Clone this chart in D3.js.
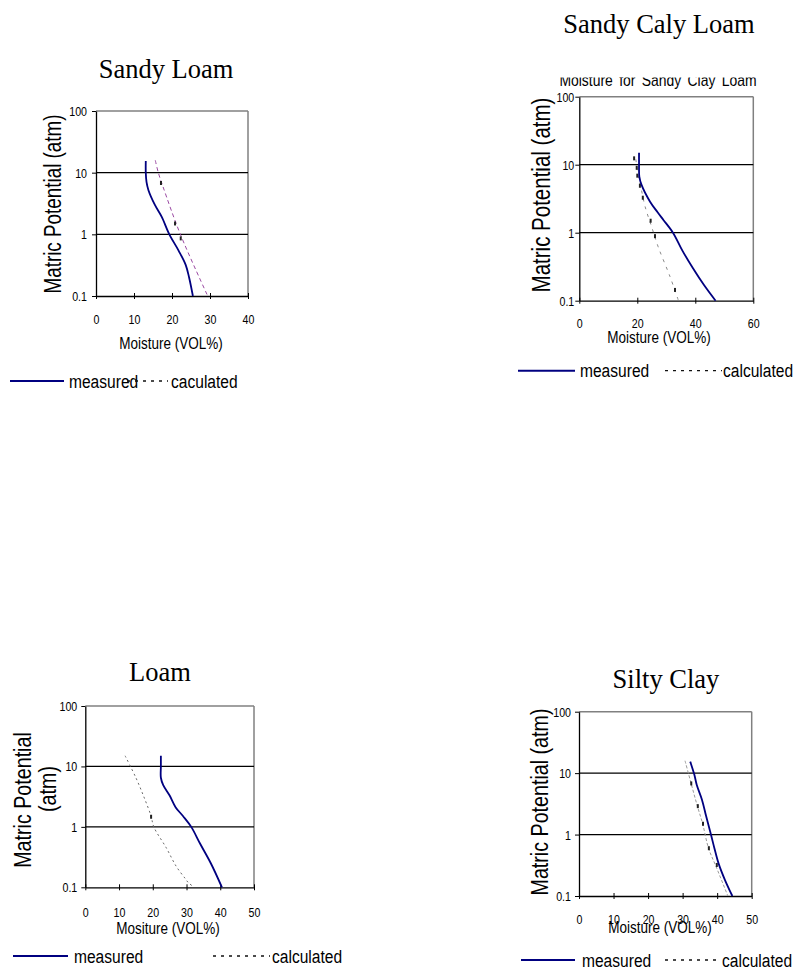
<!DOCTYPE html>
<html>
<head>
<meta charset="utf-8">
<script src="https://cdn.jsdelivr.net/npm/d3@7"></script>
<style>
  body { margin: 0; background: #fff; }
  svg { display: block; }
</style>
</head>
<body>
<svg id="chart" width="800" height="968"></svg>
<script>
// ---- data ([moisture VOL%, potential atm]) ----
const potentialTicks = [0.1, 1, 10, 100];
const gridLevels = [1, 10];

const sandyLoamTicks = [0, 10, 20, 30, 40];
const sandyClayLoamTicks = [0, 20, 40, 60];
const loamTicks = [0, 10, 20, 30, 40, 50];
const siltyClayTicks = [0, 10, 20, 30, 40, 50];

const sandyLoamMeasured = [[13.1, 15.5], [13.1, 10], [13.3, 7], [13.8, 5.2], [15.5, 3], [17.3, 1.92],
  [19.3, 1], [21.7, 0.55], [23.6, 0.32], [24.5, 0.2], [25.5, 0.1]];
const sandyLoamCalculated = [[15.6, 15.9], [16.4, 10], [17.6, 6], [22.2, 1], [29.4, 0.1]];
const sandyLoamMarks = [[17.1, 6.8], [20.8, 1.5], [22.3, 0.86]];

const sandyClayLoamMeasured = [[20.6, 15], [20.6, 10], [20.7, 6.7], [21.5, 5], [24.4, 2.86], [27, 2],
  [29, 1.54], [32.3, 1], [35.5, 0.55], [39.2, 0.3], [43, 0.17], [47, 0.1]];
const sandyClayLoamCalculated = [[19.5, 12], [20.3, 6.9], [21.3, 4.5], [22.7, 2.41], [25, 1.2],
  [27.2, 0.62], [31.3, 0.225], [34.2, 0.1]];
const sandyClayLoamMarks = [[18.9, 12.4], [19.8, 9], [20, 6.9], [20.9, 4.9], [21.9, 3.27],
  [24.6, 1.5], [26.1, 0.89], [33, 0.144]];

const loamMeasured = [[22.4, 15], [22.4, 10], [22.4, 6.5], [23.1, 4.9], [25, 3.3], [26.8, 2.1],
  [29, 1.5], [31.4, 1], [34, 0.53], [37.2, 0.25], [40.5, 0.1]];
const loamCalculated = [[11.8, 15], [15, 6.5], [17.5, 3], [19.5, 1.5], [20.3, 1], [24, 0.45],
  [27, 0.22], [29.6, 0.14], [30.5, 0.12], [32.3, 0.1]];
const loamMarks = [[19.5, 1.47]];

const siltyClayMeasured = [[32.2, 15.4], [33.4, 9.4], [34.1, 6.4], [35.6, 3.7], [36.8, 2], [38.2, 1],
  [39.2, 0.6], [40.4, 0.34], [42.3, 0.18], [44.4, 0.1]];
const siltyClayCalculated = [[30.7, 15.9], [32.4, 7], [34.2, 3], [35.8, 1.5], [37.5, 0.6],
  [39.7, 0.3], [43.1, 0.1]];
const siltyClayMarks = [[32.5, 6.8], [34.4, 2.9], [35.9, 1.5], [37.6, 0.6], [39.9, 0.32]];

// ---- layout of the four panels ----
const panels = [
  {
    title: "Sandy Loam", titleX: 166, titleY: 69,
    left: 96, right: 248, top: 111, bottom: 296, tickGap: 9, xTickGap: 23,
    ticks: sandyLoamTicks, measured: sandyLoamMeasured, calculated: sandyLoamCalculated, marks: sandyLoamMarks,
    calcColor: "#9b4aa3", calcDash: "4,3",
    yLabel: ["Matric Potential (atm)"], yLabelX: [53], yLabelY: [204], yLabelSize: 23,
    xLabel: "Moisture (VOL%)", xLabelX: 171, xLabelY: 343,
    legend: { y: 381, l1: 10, l2: 64, t1: 69, d1: 127, d2: 168, t2: 171, calc: "caculated" }
  },
  {
    title: "Sandy Caly Loam", titleX: 659, titleY: 24,
    subtitle: "Moisture for Sandy Clay Loam", subX: 658, subY: 86, subClip: 77.5,
    left: 579.3, right: 753.3, top: 96.7, bottom: 300.7, tickGap: 5, xTickGap: 22.3,
    ticks: sandyClayLoamTicks, measured: sandyClayLoamMeasured, calculated: sandyClayLoamCalculated, marks: sandyClayLoamMarks,
    calcColor: "#8a8a8a", calcDash: "3,5",
    yLabel: ["Matric Potential (atm)"], yLabelX: [541.7], yLabelY: [195], yLabelSize: 25,
    xLabel: "Moisture (VOL%)", xLabelX: 659, xLabelY: 337,
    legend: { y: 370.7, l1: 518, l2: 575, t1: 580, d1: 665, d2: 722, t2: 723, calc: "calculated" }
  },
  {
    title: "Loam", titleX: 160, titleY: 672,
    left: 85.3, right: 254, top: 706, bottom: 887.3, tickGap: 8, xTickGap: 25.4,
    ticks: loamTicks, measured: loamMeasured, calculated: loamCalculated, marks: loamMarks,
    calcColor: "#6a6a6a", calcDash: "2,3",
    yLabel: ["Matric Potential", "(atm)"], yLabelX: [23, 48], yLabelY: [800, 789], yLabelSize: 24,
    xLabel: "Mositure (VOL%)", xLabelX: 168, xLabelY: 928,
    legend: { y: 956, l1: 13, l2: 68, t1: 74, d1: 213, d2: 270, t2: 272, calc: "calculated" }
  },
  {
    title: "Silty Clay", titleX: 666, titleY: 678.5,
    left: 579, right: 751.7, top: 711.7, bottom: 896, tickGap: 8, xTickGap: 23,
    ticks: siltyClayTicks, measured: siltyClayMeasured, calculated: siltyClayCalculated, marks: siltyClayMarks,
    calcColor: "#9a9a9a", calcDash: "3,2",
    yLabel: ["Matric Potential (atm)"], yLabelX: [540], yLabelY: [802], yLabelSize: 24,
    xLabel: "Moisture (VOL%)", xLabelX: 660, xLabelY: 927,
    legend: { y: 960, l1: 521, l2: 575, t1: 582, d1: 665, d2: 718, t2: 722, calc: "calculated" }
  }
];

const SANS = "'Liberation Sans', Arial, sans-serif";
const SERIF = "'Liberation Serif', 'Times New Roman', serif";
const SQUEEZE = 0.82;   // the scanned labels are horizontally condensed
const TICK_SIZE = 13;

const svg = d3.select("#chart");
svg.append("rect").attr("width", 800).attr("height", 968).attr("fill", "#fff");

// condensed sans text, centred vertically on (x, y)
function sansText(g, str, x, y, size, anchor, rotate) {
  return g.append("text")
    .attr("transform", "translate(" + x + "," + y + ")" + (rotate ? " rotate(-90)" : "") + " scale(" + SQUEEZE + ",1)")
    .attr("text-anchor", anchor || "middle")
    .attr("dy", "0.35em")
    .attr("font-family", SANS)
    .attr("font-size", size)
    .attr("fill", "#000")
    .text(str);
}

function drawPanel(p, i) {
  const g = svg.append("g");

  const x = d3.scaleLinear().domain([0, p.ticks[p.ticks.length - 1]]).range([p.left, p.right]);
  const y = d3.scaleLog().domain([0.1, 100]).range([p.bottom, p.top]);

  // title
  g.append("text")
    .attr("x", p.titleX).attr("y", p.titleY).attr("dy", "0.35em")
    .attr("text-anchor", "middle")
    .attr("font-family", SERIF).attr("font-size", 26.5)
    .text(p.title);

  // chart subtitle, top cut off as in the scan (only on the sandy clay loam panel)
  if (p.subtitle) {
    const clipId = "subclip" + i;
    svg.append("clipPath").attr("id", clipId)
      .append("rect").attr("x", 500).attr("y", p.subClip).attr("width", 300).attr("height", 20);
    g.append("g").attr("clip-path", "url(#" + clipId + ")")
      .append("text")
      .attr("transform", "translate(" + p.subX + "," + p.subY + ") scale(" + SQUEEZE + ",1)")
      .attr("text-anchor", "middle")
      .attr("font-family", SANS).attr("font-size", 17)
      .attr("word-spacing", 3)
      .text(p.subtitle);
  }

  // plot frame: grey top/right, black grid lines
  g.append("line")
    .attr("x1", p.left).attr("x2", p.right).attr("y1", y(100)).attr("y2", y(100))
    .attr("stroke", "#808080").attr("stroke-width", 1.5);
  g.append("line")
    .attr("x1", p.right).attr("x2", p.right).attr("y1", p.top).attr("y2", p.bottom)
    .attr("stroke", "#808080").attr("stroke-width", 1.5);
  g.selectAll(".grid").data(gridLevels).enter().append("line")
    .attr("x1", p.left).attr("x2", p.right)
    .attr("y1", d => y(d)).attr("y2", d => y(d))
    .attr("stroke", "#000").attr("stroke-width", 1.2);

  // y axis
  const yAxis = g.append("g")
    .attr("transform", "translate(" + p.left + ",0)")
    .call(d3.axisLeft(y).tickValues(potentialTicks).tickFormat(d3.format("")).tickSize(4).tickSizeOuter(0));
  yAxis.selectAll("text")
    .attr("x", null).attr("dy", "0.35em")
    .attr("transform", "translate(" + (-p.tickGap) + ",0) scale(" + SQUEEZE + ",1)")
    .attr("font-family", SANS).attr("font-size", TICK_SIZE);
  yAxis.select(".domain").attr("stroke-width", 1.3);

  // x axis with crossing ticks
  const xAxis = g.append("g")
    .attr("transform", "translate(0," + p.bottom + ")")
    .call(d3.axisBottom(x).tickValues(p.ticks).tickSize(3).tickSizeOuter(0));
  xAxis.selectAll(".tick line").attr("y1", -3);
  xAxis.selectAll("text")
    .attr("y", null).attr("dy", "0.35em")
    .attr("transform", "translate(0," + p.xTickGap + ") scale(" + SQUEEZE + ",1)")
    .attr("font-family", SANS).attr("font-size", TICK_SIZE);
  xAxis.select(".domain").attr("stroke-width", 1.3);

  // axis titles
  p.yLabel.forEach((lbl, k) => sansText(g, lbl, p.yLabelX[k], p.yLabelY[k], p.yLabelSize, "middle", true));
  sansText(g, p.xLabel, p.xLabelX, p.xLabelY, 16.5, "middle", false);

  const line = d3.line()
    .x(d => x(d[0]))
    .y(d => y(d[1]))
    .curve(d3.curveCatmullRom.alpha(0.5));

  // calculated curve (dashed) and its point marks
  g.append("path")
    .datum(p.calculated)
    .attr("d", line)
    .attr("fill", "none")
    .attr("stroke", p.calcColor)
    .attr("stroke-width", 1)
    .attr("stroke-dasharray", p.calcDash);
  g.selectAll(".mark").data(p.marks).enter().append("rect")
    .attr("x", d => x(d[0]) - 1)
    .attr("y", d => y(d[1]) - 2)
    .attr("width", 2).attr("height", 4)
    .attr("fill", "#222");

  // measured curve
  g.append("path")
    .datum(p.measured)
    .attr("d", line)
    .attr("fill", "none")
    .attr("stroke", "#000080")
    .attr("stroke-width", 1.8);

  // legend
  const L = p.legend;
  g.append("line")
    .attr("x1", L.l1).attr("x2", L.l2).attr("y1", L.y).attr("y2", L.y)
    .attr("stroke", "#000080").attr("stroke-width", 2);
  sansText(g, "measured", L.t1, L.y, 19, "start", false);
  g.append("line")
    .attr("x1", L.d1).attr("x2", L.d2).attr("y1", L.y).attr("y2", L.y)
    .attr("stroke", "#111").attr("stroke-width", 1.3)
    .attr("stroke-dasharray", "3,5");
  sansText(g, L.calc, L.t2, L.y, 19, "start", false);
}

panels.forEach(drawPanel);
</script>
</body>
</html>
